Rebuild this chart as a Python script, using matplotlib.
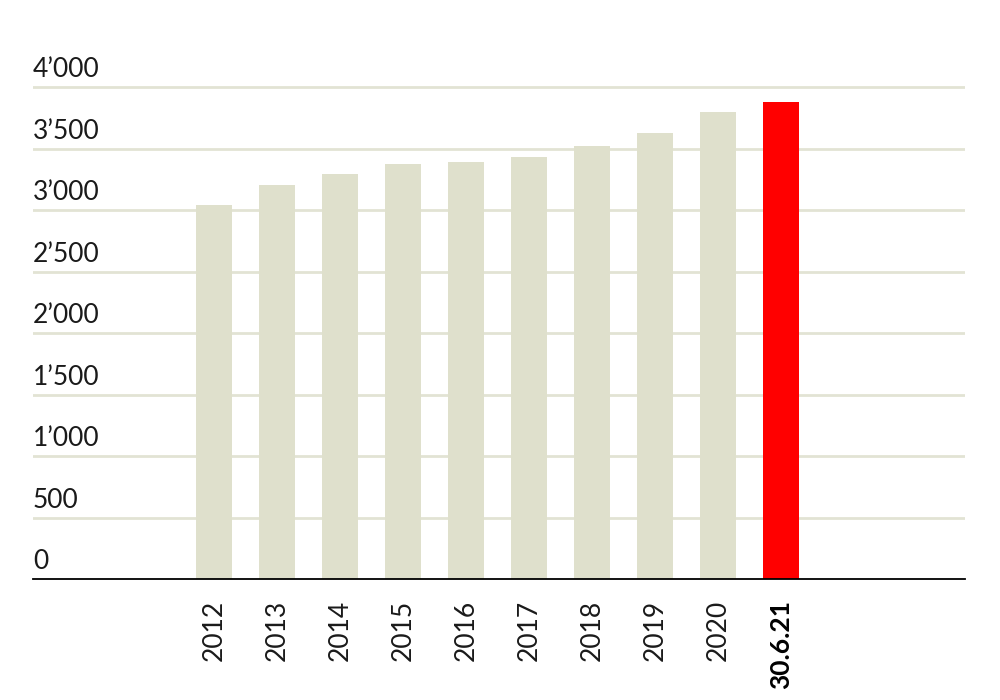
import matplotlib
matplotlib.use("Agg")
import matplotlib.pyplot as plt
import matplotlib.transforms as mtransforms

categories = ["2012", "2013", "2014", "2015", "2016", "2017", "2018", "2019", "2020", "30.6.21"]
values = [3040, 3205, 3290, 3370, 3390, 3430, 3520, 3625, 3795, 3875]
bar_colors = ["#dfe0cc"] * 9 + ["#ff0000"]
y_ticks = [0, 500, 1000, 1500, 2000, 2500, 3000, 3500, 4000]
y_labels = ["0", "500", "1\u2019000", "1\u2019500", "2\u2019000", "2\u2019500", "3\u2019000", "3\u2019500", "4\u2019000"]

plt.rcParams['font.family'] = ['Lato', 'DejaVu Sans']

fig = plt.figure(figsize=(10, 7), dpi=100)
ax = fig.add_axes([0.033, 1 - 579 / 700, 0.932, (579 - 74.7) / 700])

x = list(range(len(categories)))
ax.bar(x, values, width=0.571, color=bar_colors, zorder=3)

ax.set_ylim(0, 4100)
ax.set_xlim(-2.873, 11.92)

for v in y_ticks[1:]:
    ax.axhline(v, color="#e2e3d4", lw=2, zorder=1)

trans = mtransforms.blended_transform_factory(ax.transAxes, ax.transData)
offset = mtransforms.ScaledTranslation(0, 3.5 / 72, fig.dpi_scale_trans)
for v, lab in zip(y_ticks, y_labels):
    ax.text(0, v, lab, transform=trans + offset, ha="left", va="bottom",
            fontsize=19, color="#1a1a1a", fontweight="normal")

ax.set_yticks([])
ax.set_xticks(x)
ax.set_xticklabels(categories, rotation=90, fontsize=19, color="#1a1a1a")
ax.tick_params(axis="x", length=0, pad=15)
for lbl in ax.get_xticklabels()[-1:]:
    lbl.set_fontweight("bold")
    lbl.set_color("black")

for s in ["top", "left", "right"]:
    ax.spines[s].set_visible(False)
ax.spines["bottom"].set_color("black")
ax.spines["bottom"].set_linewidth(1.3)
ax.spines["bottom"].set_zorder(5)

fig.savefig("out.png", dpi=100)
